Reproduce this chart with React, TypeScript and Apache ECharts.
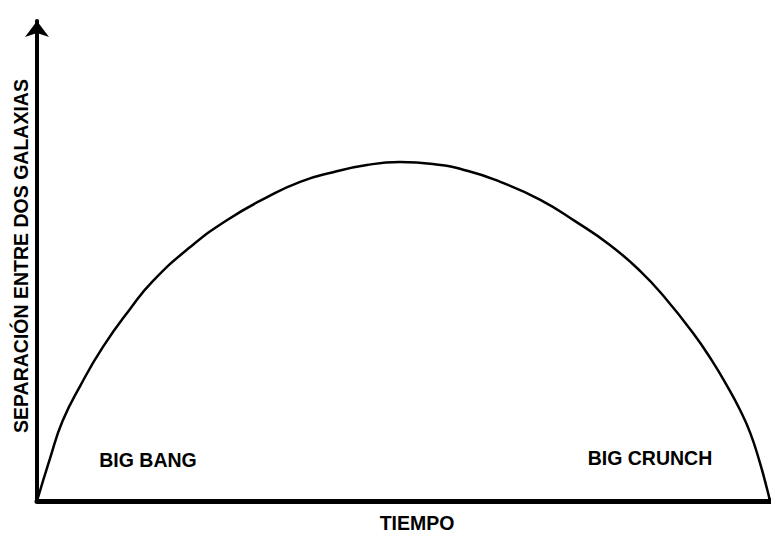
import React, { useEffect, useRef } from "react";
import * as echarts from "echarts";

// Time (0 = Big Bang, 100 = Big Crunch) and separation between two galaxies
const tiempo = [0, 1.8, 3.5, 5.9, 9.0, 12.7, 15.8, 20.9, 25.9, 31.4, 35.9, 40.4, 45.0, 49.5, 54.0, 58.7, 63.2, 68.6, 73.4, 78.2, 82.3, 85.7, 89.5, 92.1, 94.1, 95.9, 97.3, 98.6, 99.6, 100];
const separacion = [0, 9.0, 16.7, 24.0, 32.1, 40.0, 45.8, 52.9, 58.5, 63.3, 66.5, 68.5, 70.0, 70.6, 70.2, 68.8, 66.5, 62.8, 58.3, 53.3, 47.9, 42.3, 35.0, 29.2, 24.1, 19.0, 14.2, 8.1, 2.5, 0];

const xAxisTitle = "TIEMPO";
const yAxisTitle = "SEPARACIÓN ENTRE DOS GALAXIAS";
const phaseLabels = ["BIG BANG", "BIG CRUNCH"];

const FONT = "'Liberation Sans', Arial, sans-serif";

export default function App() {
  const ref = useRef<HTMLDivElement>(null);

  useEffect(() => {
    if (!ref.current) return;
    const chart = echarts.init(ref.current, null, { renderer: "svg" });
    const data = tiempo.map((t, i) => {
      if (i === tiempo.length - 1) {
        return { value: [t, separacion[i]], symbol: "circle", symbolSize: 6 };
      }
      return { value: [t, separacion[i]] };
    });
    const textStyle = (text: string) => ({
      text,
      fill: "#000",
      font: `bold 19.5px ${FONT}`,
      textAlign: "center",
      textVerticalAlign: "middle",
    });
    chart.setOption({
      animation: false,
      backgroundColor: "#fff",
      grid: { left: 37, right: 1, top: 21, bottom: 35, containLabel: false },
      xAxis: {
        type: "value",
        min: 0,
        max: 100,
        axisLine: { show: true, lineStyle: { color: "#000", width: 5 } },
        axisTick: { show: false },
        axisLabel: { show: false },
        splitLine: { show: false },
      },
      yAxis: {
        type: "value",
        min: 0,
        max: 100,
        axisLine: {
          show: true,
          symbol: ["none", "arrow"],
          symbolSize: [18, 16],
          lineStyle: { color: "#000", width: 4 },
        },
        axisTick: { show: false },
        axisLabel: { show: false },
        splitLine: { show: false },
      },
      series: [
        {
          type: "line",
          data,
          smooth: 0.5,
          symbol: "none",
          showSymbol: true,
          itemStyle: { color: "#000" },
          lineStyle: { color: "#000", width: 2.5 },
        },
      ],
      graphic: [
        { type: "text", x: 148, y: 460, style: textStyle(phaseLabels[0]) },
        { type: "text", x: 650, y: 458, style: textStyle(phaseLabels[1]) },
        { type: "text", x: 417, y: 523, style: textStyle(xAxisTitle) },
        {
          type: "text",
          x: 21,
          y: 256,
          rotation: Math.PI / 2,
          style: textStyle(yAxisTitle),
        },
      ],
    });
    return () => chart.dispose();
  }, []);

  return (
    <div
      ref={ref}
      style={{ width: 771, height: 536, position: "absolute", left: 0, top: 0 }}
    />
  );
}
